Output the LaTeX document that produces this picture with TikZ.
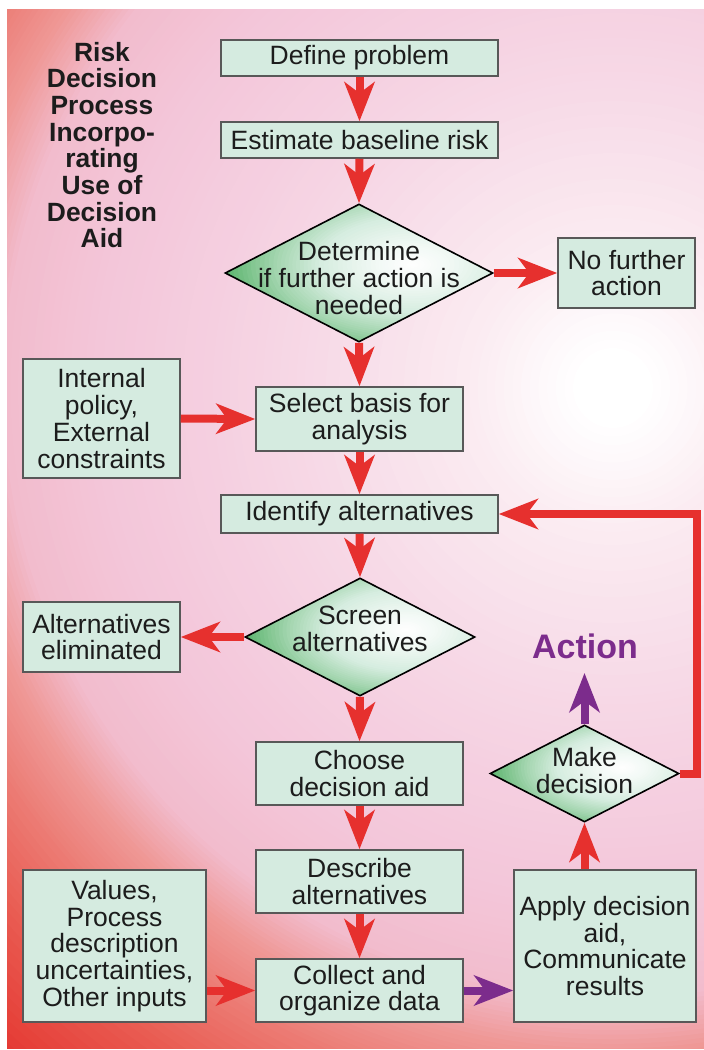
\documentclass[tikz,border=0pt]{standalone}
\usepackage{fontspec}
\setmainfont{Liberation Sans}
\usetikzlibrary{arrows.meta,shapes.geometric,calc}

% palette
\definecolor{boxfill}{RGB}{213,235,224}
\definecolor{boxline}{RGB}{88,88,88}
\definecolor{flowred}{RGB}{230,48,46}
\definecolor{flowpurple}{RGB}{124,44,140}
\definecolor{inktext}{RGB}{28,28,28}
% background glow
\definecolor{bgA}{RGB}{251,236,242}
\definecolor{bgB}{RGB}{247,218,231}
\definecolor{bgC}{RGB}{245,208,225}
\definecolor{bgD}{RGB}{243,198,217}
\definecolor{bgE}{RGB}{242,188,205}
\definecolor{bgF}{RGB}{239,152,150}
\definecolor{bgG}{RGB}{236,125,118}
\definecolor{bgH}{RGB}{233,92,82}
\definecolor{bgI}{RGB}{229,58,52}
% decision diamonds
\definecolor{diaA}{RGB}{242,249,245}
\definecolor{diaB}{RGB}{214,237,224}
\definecolor{diaC}{RGB}{162,213,174}
\definecolor{diaD}{RGB}{88,178,106}

% concentric colour rings: #1 centre, #2/#3 x/y radius factors,
% #4 list of outer-radius/outer-colour/inner-radius/inner-colour, outermost first
\newcommand{\glowrings}[4]{%
  \foreach \radB/\colB/\radA/\colA in {#4} {%
    \pgfmathsetmacro\ringstep{(\radB-\radA)/12}%
    \foreach \kk in {0,...,11} {%
      \pgfmathsetmacro\rrx{(\radB-\kk*\ringstep)*(#2)}%
      \pgfmathsetmacro\rry{(\radB-\kk*\ringstep)*(#3)}%
      \pgfmathtruncatemacro\mixpc{100-\kk*100/12}%
      \fill[\colB!\mixpc!\colA] #1 ellipse [x radius=\rrx pt, y radius=\rry pt];
    }%
  }%
}
\newcommand{\diaglow}[2]{%
  \glowrings{($(path picture bounding box.center)+(0.2*#1,-0.06*#2)$)}{#1/100}{#2/100}%
    {72/diaD/52/diaC,52/diaC/35/diaB,35/diaB/14/diaA,14/diaA/0/white}}

\tikzset{
  txt/.style={font=\fontsize{26.5}{26.7}\selectfont, text=inktext, align=center},
  box/.style={txt, rectangle, draw=boxline, line width=1.5pt, fill=boxfill, inner sep=0pt},
  dia/.style 2 args={diamond, draw=black, line width=1.6pt, inner sep=0pt,
    minimum width=#1pt, minimum height=#2pt, path picture={\diaglow{#1}{#2}}},
  diatext/.style={txt, inner sep=0pt},
  title/.style={font=\bfseries\fontsize{26.4}{26.7}\selectfont, text=inktext, align=center, inner sep=0pt},
  flow/.style={draw=flowred, line width=8pt, line join=miter,
    -{Stealth[length=39pt,width=30pt,inset=11pt]}},
  flowp/.style={flow, draw=flowpurple},
}

\begin{document}
\begin{tikzpicture}[x=1pt,y=-1pt]
\useasboundingbox (0,0) rectangle (704,1050);

% backdrop
\fill[white] (0,0) rectangle (704,1050);
\begin{scope}
  \clip (7,9) rectangle (704,1048);
  \glowrings{(613,388)}{1}{1}{900/bgI/800/bgH,800/bgH/720/bgG,720/bgG/665/bgF,
    665/bgF/610/bgE,610/bgE/520/bgD,520/bgD/400/bgC,400/bgC/300/bgB,
    300/bgB/144/bgA,144/bgA/40/white,40/white/0/white}
\end{scope}

% heading
\node[title, anchor=north] (title) at (102,41.7)
  {Risk\\Decision\\Process\\Incorpo-\\rating\\Use of\\Decision\\Aid};

% main column
\node[box, minimum width=277pt, minimum height=36pt] (define) at (359.5,58) {Define problem};
\node[box, minimum width=277pt, minimum height=36pt] (estimate) at (359.5,140) {Estimate baseline risk};
\node[dia={268}{138}] (det) at (359,273) {};
\node[diatext] (dettext) at ($(det)+(0,5)$) {Determine\\if further action is\\needed};
\node[box, minimum width=137pt, minimum height=70pt] (nofurther) at (626.5,273) {No further\\action};
\node[box, minimum width=157pt, minimum height=119pt] (internal) at (101.5,418.5) {Internal\\policy,\\External\\constraints};
\node[box, minimum width=207pt, minimum height=64pt] (select) at (359.5,419) {Select basis for\\analysis};
\node[box, minimum width=277pt, minimum height=38pt] (identify) at (359.5,514) {Identify alternatives};
\node[dia={230}{118}] (screen) at (360,637) {};
\node[diatext] (screentext) at ($(screen)+(0,-8)$) {Screen\\alternatives};
\node[box, minimum width=157pt, minimum height=70pt] (elim) at (101.5,637) {Alternatives\\eliminated};
\node[box, minimum width=207pt, minimum height=63pt] (choose) at (359.5,773.5) {Choose\\decision aid};
\node[box, minimum width=207pt, minimum height=63pt] (describe) at (359.5,881.5) {Describe\\alternatives};
\node[box, minimum width=207pt, minimum height=63pt] (collect) at (359.5,990.5) {Collect and\\organize data};
\node[box, minimum width=183pt, minimum height=152pt] (values) at (114.5,946) {Values,\\Process\\description\\uncertainties,\\Other inputs};
\node[box, minimum width=182pt, minimum height=152pt] (apply) at (605,946) {Apply decision\\aid,\\Communicate\\results};
\node[dia={189}{97}] (make) at (584.5,773.5) {};
\node[diatext] (maketext) at ($(make)+(0,-3)$) {Make\\decision};
\node[font=\bfseries\fontsize{34}{34}\selectfont, text=flowpurple, inner sep=0pt] (action) at (585,646) {Action};

\coordinate (actiontip) at (584.5,673);
\coordinate (loopcorner) at (697,514);

% connectors
\draw[flow] (define.south) -- (estimate.north);
\draw[flow] (estimate.south) -- (det.north);
\draw[flow] (det.east) -- (nofurther.west);
\draw[flow] (det.south) -- (select.north);
\draw[flow] (internal.east) -- (select.west);
\draw[flow] (select.south) -- (identify.north);
\draw[flow] (identify.south) -- (screen.north);
\draw[flow] (screen.west) -- (elim.east);
\draw[flow] (screen.south) -- (choose.north);
\draw[flow] (choose.south) -- (describe.north);
\draw[flow] (describe.south) -- (collect.north);
\draw[flow] (values.east |- collect.west) -- (collect.west);
\draw[flowp] (collect.east) -- (apply.west |- collect.east);
\draw[flow] (make.south |- apply.north) -- (make.south);
\draw[flowp] (make.north) -- (actiontip);
\draw[flow] (make.east) -| (loopcorner) -- (identify.east);
\end{tikzpicture}
\end{document}
